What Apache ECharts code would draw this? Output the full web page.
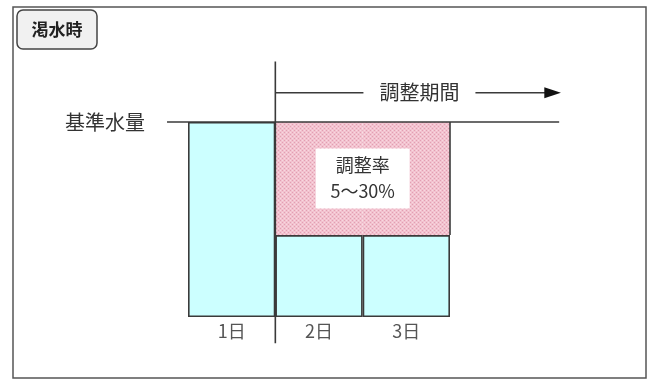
<!DOCTYPE html>
<html>
<head>
<meta charset="utf-8">
<script src="https://cdn.jsdelivr.net/npm/echarts@6/dist/echarts.min.js"></script>
<style>
  html, body { margin: 0; padding: 0; background: #fff; }
  #chart { width: 653px; height: 383px; }
</style>
</head>
<body>
<div id="chart"></div>
<script>
  const days = ['1日', '2日', '3日'];
  const baseVolume = 100;
  const keptWater = [100, 42, 42];
  const cutWater = ['-', 58, 58];
  const frameTitle = '渇水時';
  const baseLabel = '基準水量';
  const periodLabel = '調整期間';
  const rateLines = ['調整率', '5～30%'];

  const FONT = '"Noto Sans CJK JP", "Noto Sans", sans-serif';
  const INK = '#3a3a3a';

  // small crosshatch tile for the pink "adjusted" area
  function hatchTile() {
    const c = document.createElement('canvas');
    c.width = 4;
    c.height = 4;
    const ctx = c.getContext('2d');
    ctx.fillStyle = '#f2c2cf';
    ctx.fillRect(0, 0, 4, 4);
    ctx.fillStyle = '#e29fb2';
    ctx.fillRect(0, 0, 1, 1);
    ctx.fillRect(2, 2, 1, 1);
    ctx.fillStyle = '#f8d8e0';
    ctx.fillRect(2, 0, 1, 1);
    ctx.fillRect(0, 2, 1, 1);
    return c;
  }

  const chart = echarts.init(document.getElementById('chart'), null, { renderer: 'canvas' });

  chart.setOption({
    animation: false,
    grid: { left: 188, right: 203, top: 122, bottom: 66 },
    xAxis: {
      type: 'category',
      data: days,
      axisLine: { show: false },
      axisTick: { show: false },
      axisLabel: { color: '#555', fontSize: 18, fontFamily: FONT, margin: 5 },
    },
    yAxis: { type: 'value', min: 0, max: baseVolume, show: false },
    series: [
      {
        type: 'bar',
        stack: 'water',
        data: keptWater,
        barCategoryGap: 0,
        itemStyle: { color: '#ccffff', borderColor: INK, borderWidth: 1.6 },
        z: 3,
      },
      {
        type: 'bar',
        stack: 'water',
        data: cutWater,
        barCategoryGap: 0,
        itemStyle: { color: { image: hatchTile(), repeat: 'repeat' }, borderWidth: 0 },
        z: 2,
      },
    ],
  });

  // map day edges (0..3) and volume values to pixels through the axes
  const c0 = chart.convertToPixel({ xAxisIndex: 0 }, 0);
  const band = chart.convertToPixel({ xAxisIndex: 0 }, 1) - c0;
  const ex = (k) => c0 + (k - 0.5) * band;
  const vy = (v) => chart.convertToPixel({ yAxisIndex: 0 }, v);

  const yBase = vy(baseVolume);
  const yArrow = vy(115);
  const line = (x1, y1, x2, y2, w) => ({
    type: 'line',
    shape: { x1, y1, x2, y2 },
    style: { stroke: INK, lineWidth: w || 1.6 },
    z: 10,
  });
  const text = (x, y, t, size, extra) => ({
    type: 'text',
    x, y,
    style: Object.assign({
      text: t, fill: '#333', fontSize: size, fontFamily: FONT,
      align: 'center', verticalAlign: 'middle',
    }, extra || {}),
    z: 12,
  });

  const rateCx = (ex(1) + ex(3)) / 2;
  const rateCy = vy(71);
  const labelMid = ex(2.65);

  chart.setOption({
    graphic: [
      { type: 'rect', shape: { x: 13, y: 7, width: 633, height: 371 }, style: { fill: 'none', stroke: '#555', lineWidth: 1.5 }, z: 1 },
      { type: 'rect', shape: { x: 17, y: 10, width: 80, height: 39, r: 6 }, style: { fill: '#f1f1f1', stroke: '#444', lineWidth: 1.5 }, z: 11 },
      text(57, 30, frameTitle, 17, { fontWeight: 'bold', fill: '#222' }),
      line(ex(-0.24), yBase, ex(4.25), yBase),
      text(145, yBase, baseLabel, 20, { align: 'right' }),
      line(ex(1), vy(131), ex(1), vy(-13.5)),
      line(ex(3), yBase, ex(3), vy(keptWater[2])),
      line(ex(1), yArrow, labelMid - 56, yArrow),
      text(labelMid, yArrow, periodLabel, 20),
      line(labelMid + 56, yArrow, ex(4.1), yArrow),
      { type: 'polygon', shape: { points: [[ex(4.08), yArrow - 5.5], [ex(4.27), yArrow], [ex(4.08), yArrow + 5.5]] }, style: { fill: '#111' }, z: 10 },
      { type: 'rect', shape: { x: rateCx - 47, y: rateCy - 30, width: 94, height: 60 }, style: { fill: '#fff' }, z: 11 },
      text(rateCx, rateCy - 13, rateLines[0], 18),
      text(rateCx, rateCy + 13, rateLines[1], 18),
    ],
  });
</script>
</body>
</html>
